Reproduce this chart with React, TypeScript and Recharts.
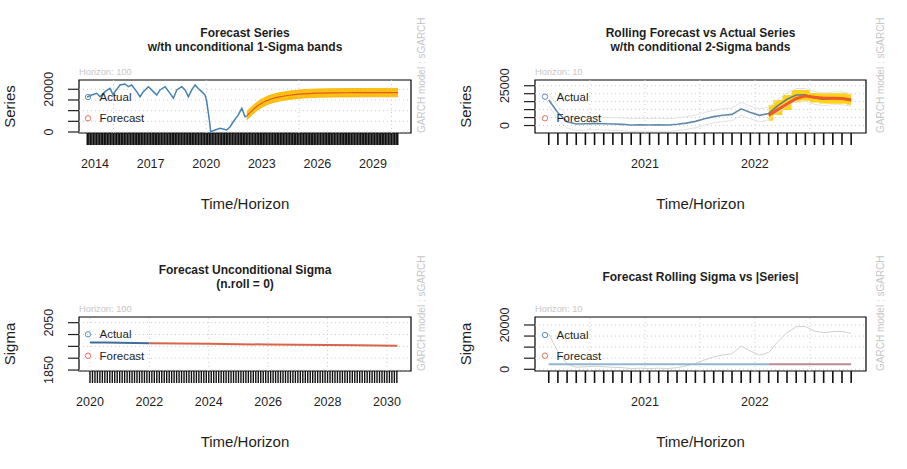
import React from 'react';
import {
	Area,
	ComposedChart,
	Line,
	ReferenceArea,
	ReferenceLine,
	XAxis,
	YAxis,
} from 'recharts';

const W = 907;
const H = 469;
const FONT = '"Liberation Sans", Arial, Helvetica, sans-serif';
const INK = '#1e1e1e';
const PALE = '#c6c6c6';
const BLUE = '#4682b4';

// monthly time index in decimal years
const monthly = (year: number, month: number, count: number, mid = 0) =>
	Array.from({ length: count }, (_, i) => year + (month - 1 + i + mid) / 12);

// ---- panel 1: forecast series w/th unconditional 1-sigma bands
const p1ActualT = [
	2013.57, 2013.82, 2014.09, 2014.27, 2014.54, 2014.81, 2014.97, 2015.35, 2015.62, 2015.8, 2015.98,
	2016.25, 2016.43, 2016.61, 2016.88, 2017.08, 2017.33, 2017.51, 2017.78, 2018.05, 2018.23, 2018.41,
	2018.68, 2018.86, 2019.04, 2019.22, 2019.4, 2019.57, 2019.76, 2019.94, 2020.03, 2020.17, 2020.24,
	2020.48, 2020.75, 2021.11, 2021.29, 2021.46, 2021.73, 2021.92, 2022.09, 2022.19,
];
const p1Actual = [
	16400, 17300, 18100, 16500, 18900, 20400, 17500, 22000, 22500, 21200, 22000,
	18900, 16500, 18900, 21200, 19500, 17300, 19700, 21200, 18100, 15800, 19700,
	21200, 19700, 16500, 19700, 22000, 20400, 18900, 17300, 14200, 5600, 150,
	940, 1700, 940, 2500, 4800, 8000, 11100, 7200, 7400,
];
const p1ForecastT = [
	2022.19, 2022.45, 2022.7, 2022.95, 2023.25, 2023.6, 2024.0, 2024.5, 2025.0, 2025.5, 2026.0,
	2027.0, 2028.0, 2029.0, 2030.35,
];
const p1Forecast = [
	7600, 9800, 11700, 13200, 14600, 15700, 16500, 17200, 17700, 18000, 18200,
	18350, 18400, 18450, 18450,
];
const p1Sigma = 1960;
const p1Rug = monthly(2013, 8, 202);
const p1Years = [2014, 2017, 2020, 2023, 2026, 2029];

// ---- panel 2: rolling forecast vs actual, conditional 2-sigma bands
const p2T = monthly(2020, 2, 34, 0.5);
const p2Actual = [
	16000, 8000, 2400, 950, 1150, 1350, 1150, 950, 750, 300, 500, 300, 500, 300, 750, 1500, 2600,
	4200, 5600, 6500, 7000, 10500, 8200, 6400, 7600, 12500, 16500, 19200, 19300, 17300, 16500,
	17000, 17100, 16200,
];
const p2Forecast = [6500, 10000, 13500, 17000, 18600, 17800, 17200, 17100, 17000, 16000];
const p2Lower = [3000, 6600, 9700, 14500, 15500, 14500, 13800, 13600, 13600, 13000];
const p2Upper = [12900, 16000, 19200, 22300, 22300, 20500, 20200, 20300, 20300, 19600];
const p2Sigma = 2000;
const p2Years = [2021, 2022];

// ---- panel 3: forecast unconditional sigma
const p3ActualT = [2020.0, 2020.5, 2021.0, 2021.5, 2022.0];
const p3Actual = [1966, 1966, 1965, 1964, 1963];
const p3ForecastT = [2022.0, 2023, 2024, 2025, 2026, 2027, 2028, 2029, 2030.35];
const p3Forecast = [1963, 1962, 1961, 1959, 1958, 1957, 1956, 1955, 1953];
const p3Rug = monthly(2020, 1, 125);
const p3Years = [2020, 2022, 2024, 2026, 2028, 2030];

// ---- panel 4: forecast rolling sigma vs |series|
const p4Sigma = [
	2300, 2280, 2260, 2250, 2250, 2240, 2240, 2230, 2230, 2230, 2230, 2230, 2230, 2230, 2230,
	2230, 2240, 2240, 2250, 2250, 2260, 2260, 2270, 2270, 2270,
];
const p4SigmaFc = [2270, 2280, 2280, 2290, 2290, 2290, 2280, 2280, 2280, 2280];

const p1ActualData = p1ActualT.map((t, i) => ({ t, v: p1Actual[i] }));
const p1ForecastData = p1ForecastT.map((t, i) => ({
	t,
	v: p1Forecast[i],
	band: [p1Forecast[i] - p1Sigma, p1Forecast[i] + p1Sigma],
}));
const p2ActualData = p2T.map((t, i) => ({
	t,
	v: p2Actual[i],
	lo: p2Actual[i] - 2 * p2Sigma,
	hi: p2Actual[i] + 2 * p2Sigma,
}));
const p2ForecastData = p2T.slice(24).map((t, i) => ({
	t,
	v: p2Forecast[i],
	band: [p2Lower[i], p2Upper[i]],
}));
const p3ActualData = p3ActualT.map((t, i) => ({ t, v: p3Actual[i] }));
const p3ForecastData = p3ForecastT.map((t, i) => ({ t, v: p3Forecast[i] }));
const p4SigmaData = p2T.slice(0, 25).map((t, i) => ({ t, v: p4Sigma[i] }));
const p4SigmaFcData = p2T.slice(24).map((t, i) => ({ t, v: p4SigmaFc[i] }));

type Box = { l: number; t: number; r: number; b: number };

const key = (v: number) => Math.round(v * 24);

const XTick = (props: any) => {
	const { x, y, payload, rugKeys, yearKeys, rugWidth } = props;
	const k = key(payload.value);
	return (
		<g>
			{rugKeys.has(k) && <line x1={x} x2={x} y1={y} y2={y + 12} stroke="#111" strokeWidth={rugWidth} />}
			{yearKeys.has(k) && (
				<text x={x} y={y + 30.5} textAnchor="middle" dominantBaseline="central" fontFamily={FONT} fontSize={12.5} fill={INK}>
					{Math.round(payload.value)}
				</text>
			)}
		</g>
	);
};

const YTick = (props: any) => {
	const { x, y, payload, labels } = props;
	if (!labels.includes(payload.value)) return <g />;
	const tx = x - 18.5;
	return (
		<text x={tx} y={y} textAnchor="middle" dominantBaseline="central" fontFamily={FONT} fontSize={12.5} fill={INK} transform={`rotate(-90 ${tx} ${y})`}>
			{payload.value}
		</text>
	);
};

interface PanelProps {
	box: Box;
	xDomain: [number, number];
	yDomain: [number, number];
	yTicks: number[];
	yLabels: number[];
	rug: number[];
	rugWidth: number;
	years: number[];
	gridX: number[];
	children: React.ReactNode;
}

const Panel = ({ box, xDomain, yDomain, yTicks, yLabels, rug, rugWidth, years, gridX, children }: PanelProps) => {
	const rugKeys = new Set(rug.map(key));
	const yearKeys = new Set(years.map(key));
	const xTicks = [...rug, ...years.filter((y) => !rugKeys.has(key(y)))].sort((a, b) => a - b);
	return (
		<div style={{ position: 'absolute', left: 0, top: 0 }}>
			<ComposedChart
				width={W}
				height={H}
				margin={{ top: box.t, right: W - box.r, bottom: H - box.b - 60, left: box.l - 60 }}
			>
				<XAxis
					type="number"
					dataKey="t"
					domain={xDomain}
					allowDataOverflow
					ticks={xTicks}
					interval={0}
					axisLine={false}
					tickLine={false}
					tickSize={0}
					tickMargin={0}
					height={60}
					tick={(p: any) => <XTick {...p} rugKeys={rugKeys} yearKeys={yearKeys} rugWidth={rugWidth} />}
				/>
				<YAxis
					type="number"
					domain={yDomain}
					allowDataOverflow
					ticks={yTicks}
					interval={0}
					width={60}
					axisLine={false}
					tickSize={11}
					tickMargin={0}
					tickLine={{ stroke: INK, strokeWidth: 1.2 }}
					tick={(p: any) => <YTick {...p} labels={yLabels} />}
				/>
				{gridX.map((v) => (
					<ReferenceLine key={'gx' + v} x={v} stroke="#cdcdcd" strokeDasharray="1 3" />
				))}
				{yTicks.map((v) => (
					<ReferenceLine key={'gy' + v} y={v} stroke="#cdcdcd" strokeDasharray="1 3" />
				))}
				{children}
				<ReferenceArea
					x1={xDomain[0]}
					x2={xDomain[1]}
					y1={yDomain[0]}
					y2={yDomain[1]}
					fill="none"
					stroke="#000"
					strokeWidth={1.2}
				/>
			</ComposedChart>
		</div>
	);
};

const Txt = ({ x, y, size = 12, bold = false, fill = INK, anchor = 'middle', rotate = false, children }: any) => (
	<text
		x={x}
		y={y}
		fontFamily={FONT}
		fontSize={size}
		fontWeight={bold ? 'bold' : 'normal'}
		fill={fill}
		textAnchor={anchor}
		dominantBaseline="central"
		transform={rotate ? `rotate(-90 ${x} ${y})` : undefined}
	>
		{children}
	</text>
);

const Legend = ({ x, y1, y2 }: { x: number; y1: number; y2: number }) => (
	<g>
		<circle cx={x} cy={y1} r={2.7} fill="none" stroke="#5a8fbf" strokeWidth={1} />
		<circle cx={x} cy={y2} r={2.7} fill="none" stroke="#e67360" strokeWidth={1} />
		<Txt x={x + 11.5} y={y1} size={11.5} anchor="start">Actual</Txt>
		<Txt x={x + 11.5} y={y2} size={11.5} anchor="start">Forecast</Txt>
	</g>
);

const Decor = ({ box, title, ylab, horizon, garchDx }: { box: Box; title: string[]; ylab: string; horizon: string; garchDx: number }) => {
	const cx = (box.l + box.r) / 2;
	const cy = (box.t + box.b) / 2;
	return (
		<g>
			{title.length === 2 ? (
				<>
					<Txt x={cx} y={box.t - 47.3} bold>{title[0]}</Txt>
					<Txt x={cx} y={box.t - 33.5} bold>{title[1]}</Txt>
				</>
			) : (
				<Txt x={cx} y={box.t - 40.3} bold>{title[0]}</Txt>
			)}
			<Txt x={box.l} y={box.t - 8.3} size={9.3} fill={PALE} anchor="start">{horizon}</Txt>
			<Txt x={box.r + garchDx} y={box.b} size={10} fill={PALE} anchor="start" rotate>GARCH model : sGARCH</Txt>
			<Txt x={box.l - 69.5} y={cy} size={15} rotate>{ylab}</Txt>
			<Txt x={cx} y={box.b + 70.5} size={15}>Time/Horizon</Txt>
		</g>
	);
};

const B1: Box = { l: 79, t: 80, r: 411, b: 133 };
const B2: Box = { l: 535, t: 80, r: 866, b: 133 };
const B3: Box = { l: 79, t: 317, r: 411, b: 371 };
const B4: Box = { l: 535, t: 317, r: 866, b: 371 };

const rollingGrid = [2020.5, 2021, 2021.5, 2022, 2022.5];

export default function App() {
	return (
		<div style={{ position: 'absolute', left: 0, top: 0, width: W, height: H, background: '#fff', fontFamily: FONT }}>
			<Panel
				box={B1}
				xDomain={[2013.137, 2031.05]}
				yDomain={[-470, 24350]}
				yTicks={[0, 5000, 10000, 15000, 20000]}
				yLabels={[0, 20000]}
				rug={p1Rug}
				rugWidth={1.5}
				years={p1Years}
				gridX={[2015, 2020, 2025, 2030]}
			>
				<Area data={p1ForecastData} dataKey="band" type="monotone" fill="#fdc010" fillOpacity={1} stroke="#f9b000" strokeWidth={0.8} isAnimationActive={false} />
				<Line data={p1ActualData} dataKey="v" type="linear" stroke={BLUE} strokeWidth={1.5} dot={false} isAnimationActive={false} />
				<Line data={p1ForecastData} dataKey="v" type="monotone" stroke="#dc5a2c" strokeWidth={1.2} dot={false} isAnimationActive={false} />
			</Panel>

			<Panel
				box={B2}
				xDomain={[2020.0, 2023.01]}
				yDomain={[-4700, 28600]}
				yTicks={[0, 5000, 10000, 15000, 20000, 25000]}
				yLabels={[0, 25000]}
				rug={p2T}
				rugWidth={1.6}
				years={p2Years}
				gridX={rollingGrid}
			>
				<Line data={p2ActualData} dataKey="hi" type="linear" stroke="#e2e2e2" strokeWidth={1} dot={false} isAnimationActive={false} />
				<Line data={p2ActualData} dataKey="lo" type="linear" stroke="#e2e2e2" strokeWidth={1} dot={false} isAnimationActive={false} />
				<Area data={p2ForecastData} dataKey="band" type="step" fill="#ffd21a" fillOpacity={1} stroke="none" isAnimationActive={false} />
				<Line data={p2ActualData} dataKey="v" type="linear" stroke="#3a6e96" strokeOpacity={0.8} strokeWidth={1.6} dot={false} isAnimationActive={false} />
				<Line data={p2ForecastData} dataKey="v" type="linear" stroke="#f05a28" strokeWidth={3} dot={false} isAnimationActive={false} />
			</Panel>

			<Panel
				box={B3}
				xDomain={[2019.63, 2030.81]}
				yDomain={[1846, 2074]}
				yTicks={[1850, 1900, 1950, 2000, 2050]}
				yLabels={[1850, 2050]}
				rug={p3Rug}
				rugWidth={1.4}
				years={p3Years}
				gridX={[2020, 2022, 2024, 2026, 2028, 2030]}
			>
				<Line data={p3ActualData} dataKey="v" type="linear" stroke="#3f6f99" strokeWidth={2} dot={false} isAnimationActive={false} />
				<Line data={p3ForecastData} dataKey="v" type="linear" stroke="#d8644a" strokeWidth={2} dot={false} isAnimationActive={false} />
			</Panel>

			<Panel
				box={B4}
				xDomain={[2020.0, 2023.01]}
				yDomain={[-770, 23600]}
				yTicks={[0, 5000, 10000, 15000, 20000]}
				yLabels={[0, 20000]}
				rug={p2T}
				rugWidth={1.6}
				years={p2Years}
				gridX={rollingGrid}
			>
				<Line data={p2ActualData} dataKey="v" type="linear" stroke="#d0d0d0" strokeWidth={1} dot={false} isAnimationActive={false} />
				<Line data={p4SigmaData} dataKey="v" type="linear" stroke="#92b6d0" strokeWidth={2} dot={false} isAnimationActive={false} />
				<Line data={p4SigmaFcData} dataKey="v" type="linear" stroke="#b98c95" strokeWidth={2} dot={false} isAnimationActive={false} />
			</Panel>

			<svg width={W} height={H} style={{ position: 'absolute', left: 0, top: 0, pointerEvents: 'none' }}>
				<Decor box={B1} title={['Forecast Series', 'w/th unconditional 1-Sigma bands']} ylab="Series" horizon="Horizon: 100" garchDx={10.7} />
				<Decor box={B2} title={['Rolling Forecast vs Actual Series', 'w/th conditional 2-Sigma bands']} ylab="Series" horizon="Horizon: 10" garchDx={14} />
				<Decor box={B3} title={['Forecast Unconditional Sigma', '(n.roll = 0)']} ylab="Sigma" horizon="Horizon: 100" garchDx={10.7} />
				<Decor box={B4} title={['Forecast Rolling Sigma vs |Series|']} ylab="Sigma" horizon="Horizon: 10" garchDx={14} />
				<Legend x={88} y1={97} y2={118.3} />
				<Legend x={545} y1={96.7} y2={118.3} />
				<Legend x={88} y1={334.3} y2={355.7} />
				<Legend x={545} y1={335} y2={355.7} />
			</svg>
		</div>
	);
}
